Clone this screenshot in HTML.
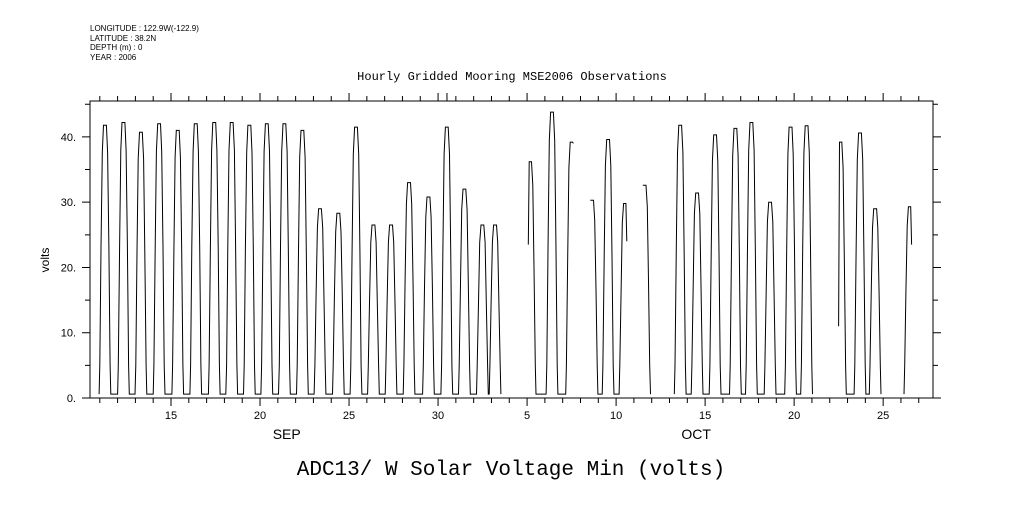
<!DOCTYPE html>
<html><head><meta charset="utf-8"><style>
body{margin:0;background:#fff;width:1009px;height:504px;overflow:hidden}
svg{font-family:"Liberation Sans",sans-serif}
</style></head><body>
<svg id="c" width="1009" height="504">
<g font-size="8" fill="#000">
<text x="90" y="31">LONGITUDE : 122.9W(-122.9)</text>
<text x="90" y="41">LATITUDE : 38.2N</text>
<text x="90" y="50">DEPTH (m) : 0</text>
<text x="90" y="60">YEAR : 2006</text>
</g>
<text x="512" y="80" font-size="12" font-family="Liberation Mono,monospace" text-anchor="middle">Hourly Gridded Mooring MSE2006 Observations</text>
<text x="49" y="260" font-size="12" text-anchor="middle" transform="rotate(-90 49 260)">volts</text>
<text x="511" y="475" font-size="21" font-family="Liberation Mono,monospace" text-anchor="middle">ADC13/ W Solar Voltage Min (volts)</text>
<rect x="90" y="101" width="843" height="297" fill="none" stroke="#000" stroke-width="1"/>
<g id="axes"></g>
<path id="series" fill="none" stroke="#000" stroke-width="1"/>
</svg>
<script>
// Cycle centers in days since Aug 31 (Sep d = d, Oct d = 30+d)
const cycleDay=[11.29,12.33,13.31,14.33,15.38,16.39,17.43,18.41,19.40,20.38,21.37,22.38,23.37,24.40,25.39,26.37,27.36,28.37,29.46,30.49,31.48,32.49,33.2,
35.17,36.4,37.5,38.65,39.55,40.5,41.6,43.6,44.55,45.56,46.7,47.6,48.65,49.8,50.7,52.6,53.7,54.55,56.5];
const cyclePeak=[41.8,42.2,40.7,42,41,42,42.2,42.2,41.8,42,42,41,29,28.3,41.5,26.5,26.5,33,30.8,41.5,32,26.5,26.5,
36.2,43.8,39.2,30.3,39.6,29.8,32.6,41.8,31.4,40.3,41.3,42.2,30,41.5,41.7,39.2,40.6,29,29.3];
// value where the segment begins/ends (null = normal night baseline)
const cycleStart=[null,null,null,null,null,null,null,null,null,null,null,null,null,null,null,null,null,null,null,null,null,null,null,
23.5,null,null,30.3,null,null,32.6,null,null,null,null,null,null,null,null,11,null,null,null];
const cycleEnd=[null,null,null,null,null,null,null,null,null,null,null,null,null,null,null,null,null,null,null,null,null,null,null,
null,null,39,null,null,24,null,null,null,null,null,null,null,null,null,null,null,null,23.5];
const yTicks=[0,10,20,30,40];
const xTickDays=[15,20,25,30,35,40,45,50,55];
const xTickLabels=["15","20","25","30","5","10","15","20","25"];
const base=0.6;
const X0=90,X1=933,Y0=398,Y1=101,D0=10.45,D1=57.8,V0=0,V1=45.5;
const sx=d=>X0+(d-D0)/(D1-D0)*(X1-X0);
const sy=v=>Y0-(v-V0)/(V1-V0)*(Y0-Y1);
const ns="http://www.w3.org/2000/svg";
const ax=document.getElementById('axes');
function mk(t,a,p){const e=document.createElementNS(ns,t);for(const k in a)e.setAttribute(k,a[k]);(p||ax).appendChild(e);return e;}
let tk="";
for(let d=11;d<=57;d++){const x=sx(d);const maj=xTickDays.includes(d);const l=maj?8:5;tk+=`M${x},${Y0}v${l}M${x},${Y1}v${-l}`;}
tk+=`M${sx(30.5)},${Y1}v-8`;
for(let v=0;v<=45;v+=5){const y=sy(v);const l=(v%10==0)?8:5;tk+=`M${X0},${y}h${-l}M${X1},${y}h${l}`;}
const tp=mk('path',{d:tk,stroke:'#000',fill:'none'});


yTicks.forEach(v=>{const t=mk('text',{x:76,y:sy(v)+4,'font-size':11,'text-anchor':'end'});t.textContent=v+'.';

});
xTickDays.forEach((d,i)=>{const t=mk('text',{x:sx(d),y:419,'font-size':11,'text-anchor':'middle'});t.textContent=xTickLabels[i];

});
[["SEP",21.5],["OCT",44.5]].forEach(m=>{const t=mk('text',{x:sx(m[1]),y:439,'font-size':14,'text-anchor':'middle'});t.textContent=m[0];

});
let p="";let prevEnd=null;
cycleDay.forEach((c,i)=>{
  const pk=cyclePeak[i];
  const s=cycleStart[i],e=cycleEnd[i];
  const pts=[];
  if(s===null){pts.push([c-0.33,base],[c-0.29,5],[c-0.22,pk*0.55],[c-0.15,pk*0.9],[c-0.08,pk]);}
  else pts.push([c-0.1,s],[c-0.05,pk]);
  if(e===null){pts.push([c+0.08,pk],[c+0.15,pk*0.9],[c+0.22,pk*0.55],[c+0.29,5],[c+0.33,base]);}
  else pts.push([c+0.05,pk],[c+0.1,e]);
  const cont=prevEnd!==null && s===null && (c-0.33-prevEnd)<0.9;
  pts.forEach((q,j)=>{p+=(j==0&&!cont?"M":"L")+sx(q[0]).toFixed(1)+","+sy(q[1]).toFixed(1);});
  prevEnd=(e===null)?c+0.33:null;
});
document.getElementById('series').setAttribute('d',p);
</script>
</body></html>
